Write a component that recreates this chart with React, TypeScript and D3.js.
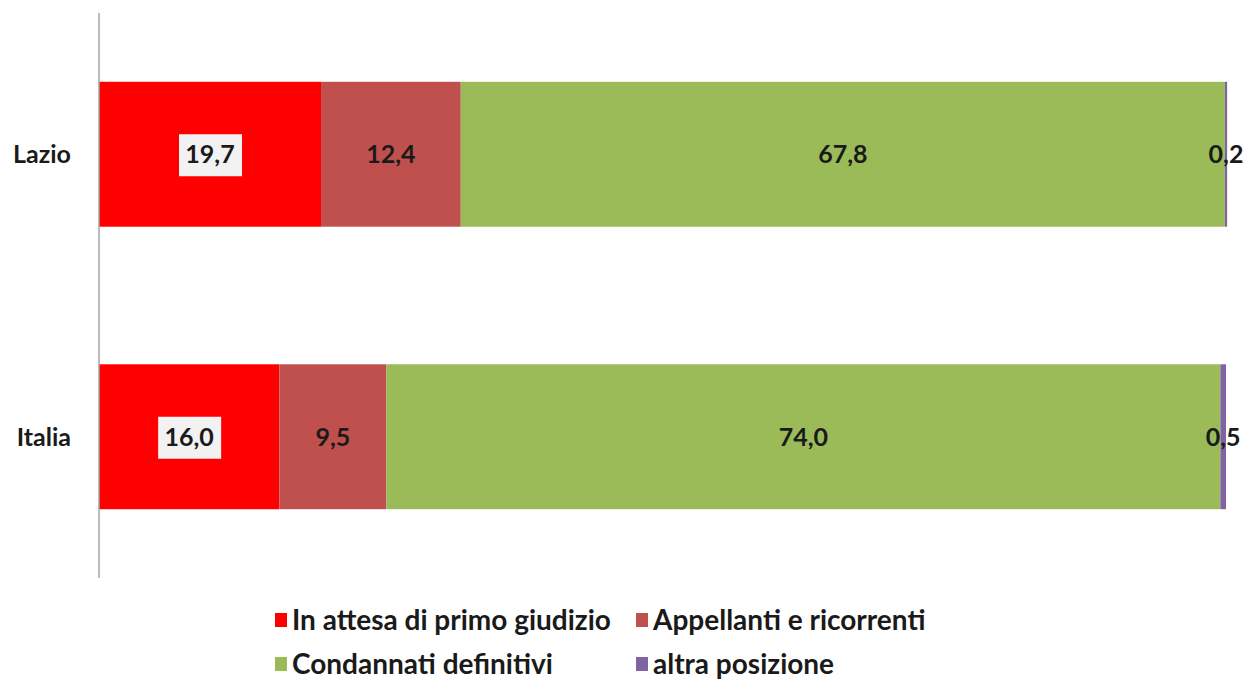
import React from "react";
import * as d3 from "d3";

const categories = ["Lazio", "Italia"];
const seriesNames = ["In attesa di primo giudizio", "Appellanti e ricorrenti", "Condannati definitivi", "altra posizione"];
const seriesColors = ["#ff0000", "#c0504d", "#9bbb59", "#8064a2"];
const lazioValues = [19.7, 12.4, 67.8, 0.2];
const italiaValues = [16.0, 9.5, 74.0, 0.5];
const valuesByCategory = [lazioValues, italiaValues];

const W = 1243, H = 682;
const FONT = "Lato, 'Open Sans', sans-serif";

export default function App() {
  const x = d3.scaleLinear().domain([0, 100]).range([99, 1226]);
  const y = d3.scaleBand<string>().domain(categories).range([13, 578]).paddingInner(0.487).paddingOuter(0.2435);
  const fmt = (v: number) => v.toFixed(1).replace(".", ",");

  const legendPos = [
    { x: 275, y: 620 },
    { x: 636, y: 620 },
    { x: 275, y: 664 },
    { x: 636, y: 664 },
  ];

  return (
    <svg width={W} height={H} style={{ position: "absolute", left: 0, top: 0, background: "#fff" }} fontFamily={FONT}>
      {categories.map((c, ci) => {
        const vals = valuesByCategory[ci];
        let acc = 0;
        const y0 = y(c)!;
        const bw = y.bandwidth();
        return (
          <g key={c}>
            {vals.map((v, si) => {
              const x0 = x(acc);
              acc += v;
              const x1 = x(acc);
              const cx = (x0 + x1) / 2;
              const cy = y0 + bw / 2;
              const label = fmt(v);
              return (
                <g key={si}>
                  <rect x={x0} y={y0} width={x1 - x0} height={bw} fill={seriesColors[si]} />
                  {si === 0 && (
                    <rect x={cx - 31} y={cy - 20} width={63} height={42} fill="#f2f2f2" />
                  )}
                  <text x={cx} y={cy} dy="0.36em" textAnchor="middle" fontSize={25} fontWeight="bold" fill="#1a1a1a">
                    {label}
                  </text>
                </g>
              );
            })}
            <text x={71} y={y0 + bw / 2} dy="0.36em" textAnchor="end" fontSize={25} fontWeight="bold" fill="#1a1a1a">
              {c}
            </text>
          </g>
        );
      })}
      <line x1={99} x2={99} y1={13} y2={578} stroke="#a6a6a6" strokeWidth={1.5} />
      {seriesNames.map((n, i) => (
        <g key={n}>
          <rect x={legendPos[i].x} y={legendPos[i].y - 7} width={12} height={14} fill={seriesColors[i]} />
          <text x={legendPos[i].x + 17} y={legendPos[i].y} dy="0.36em" fontSize={28} fontWeight="bold" fill="#1a1a1a">
            {n}
          </text>
        </g>
      ))}
    </svg>
  );
}
